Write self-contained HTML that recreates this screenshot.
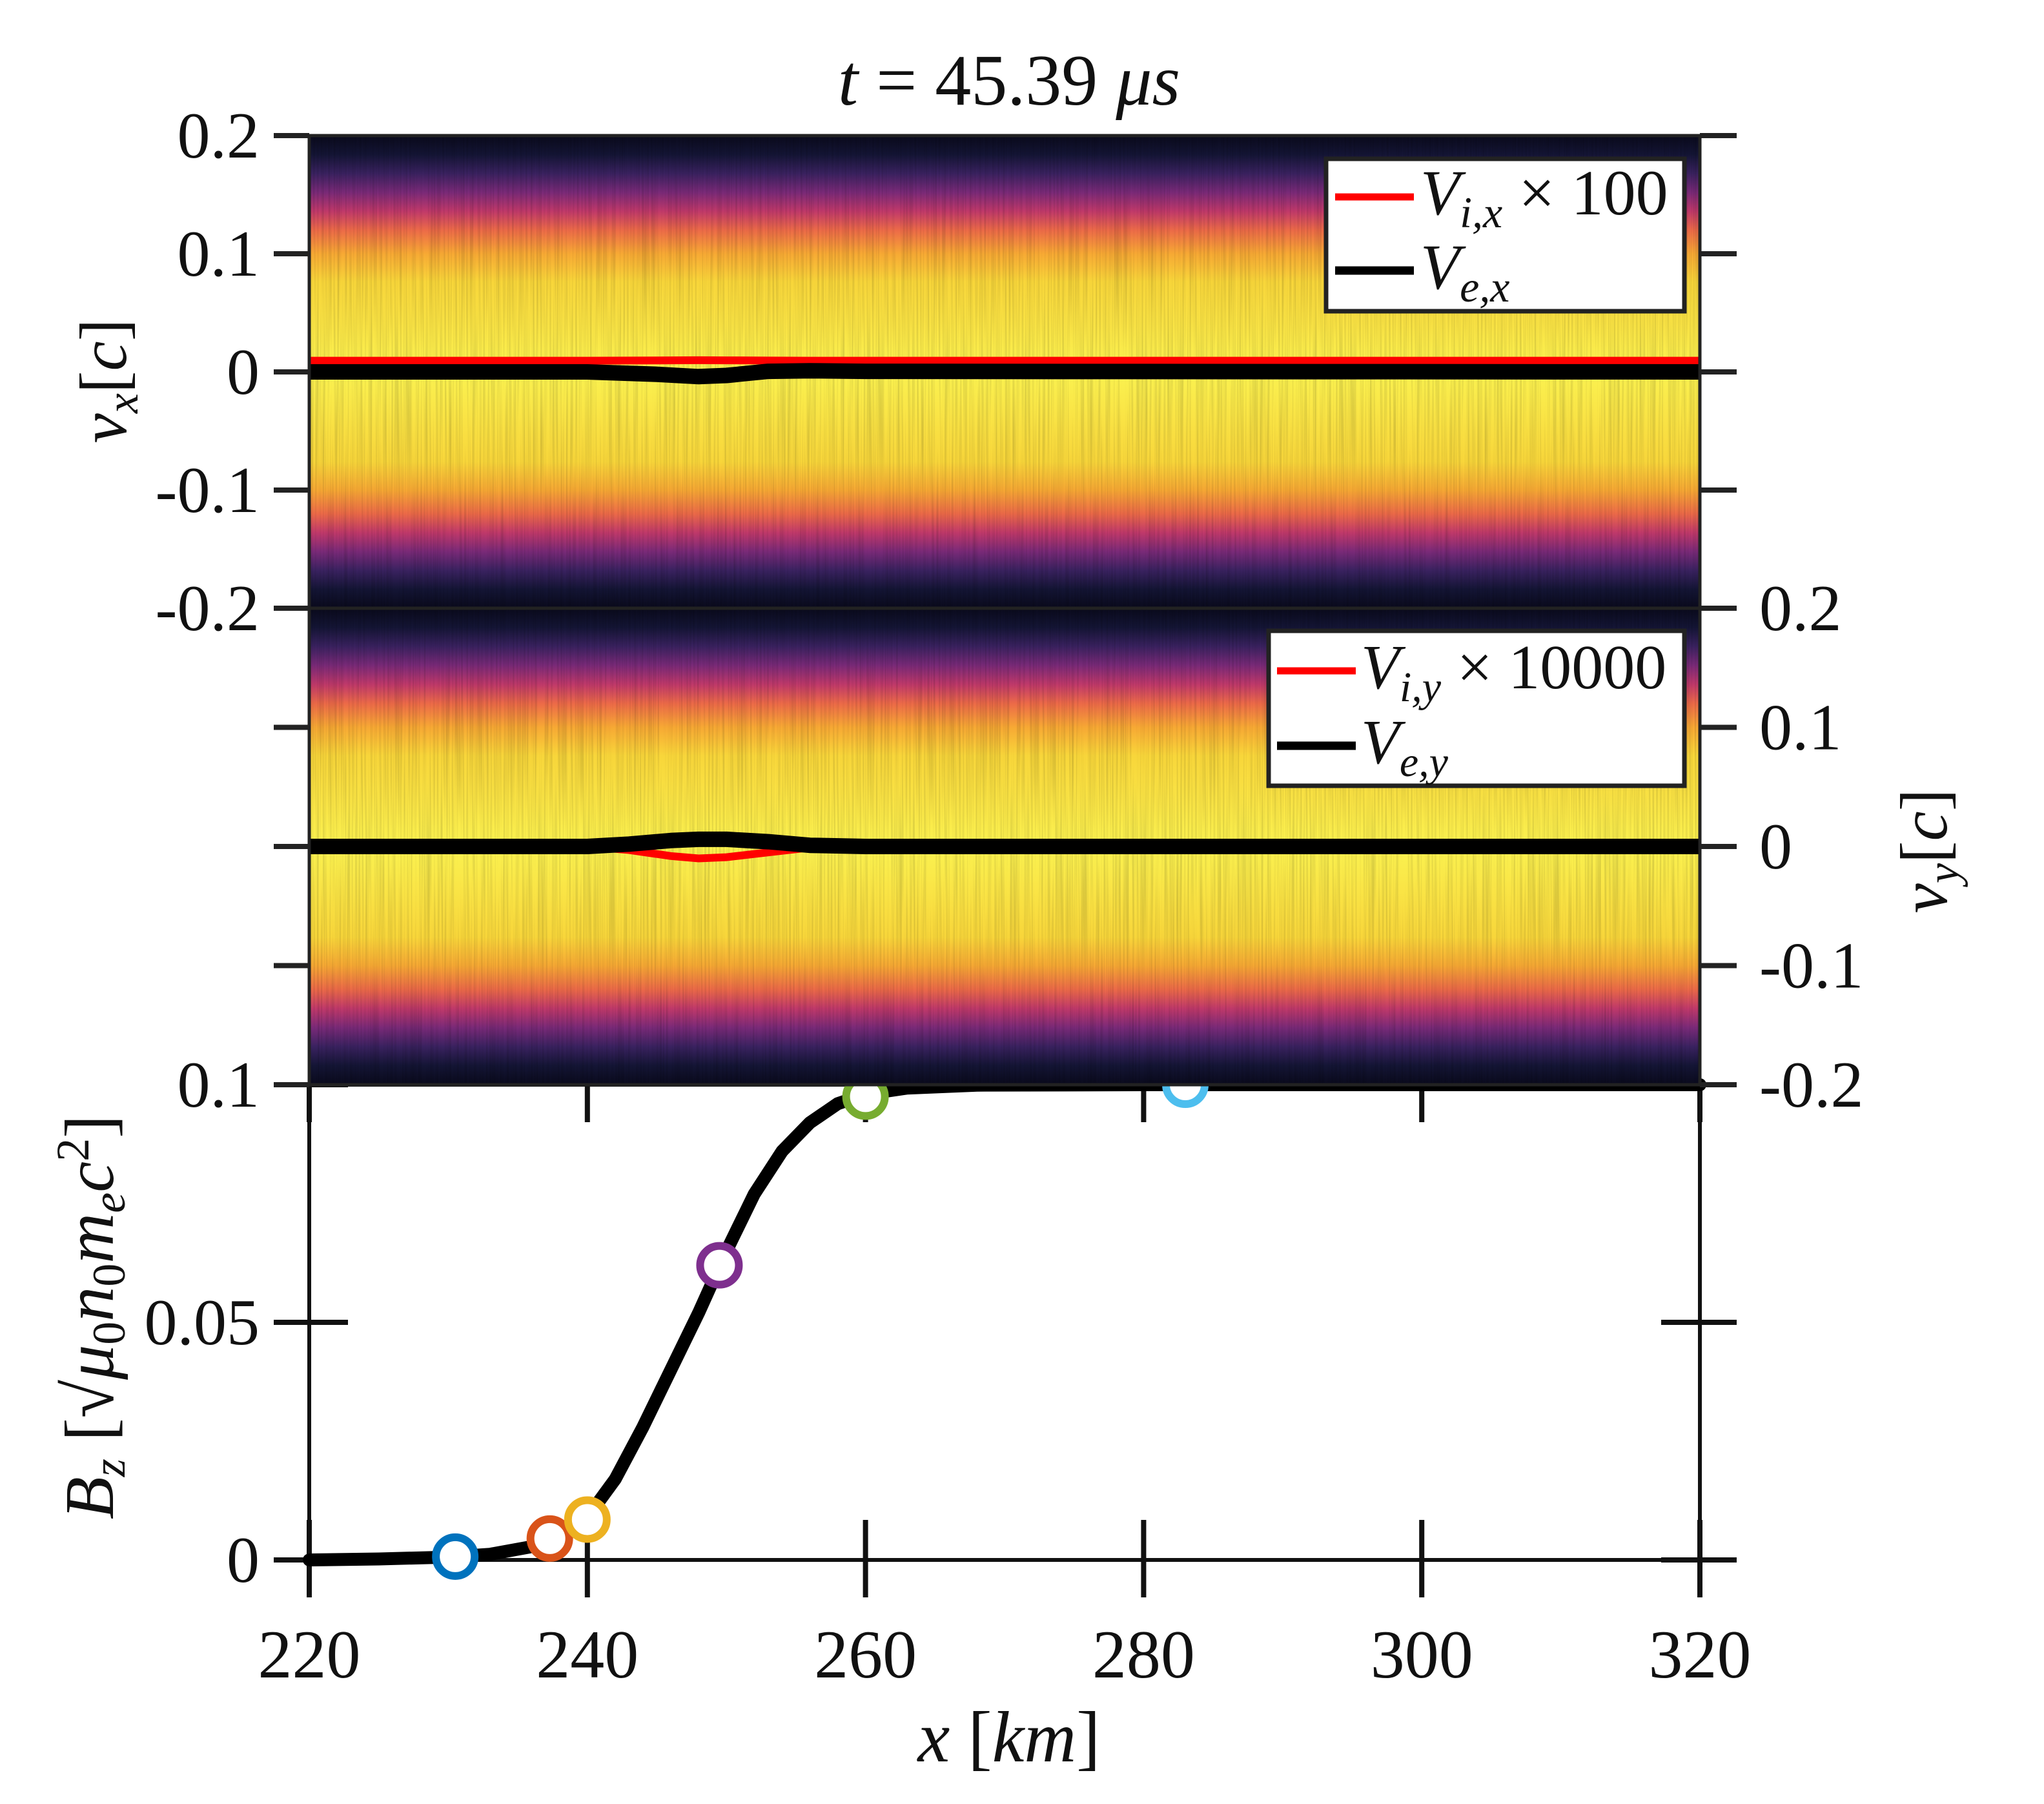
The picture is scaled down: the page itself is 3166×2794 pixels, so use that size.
<!DOCTYPE html>
<html><head><meta charset="utf-8"><style>
html,body{margin:0;padding:0;background:#fff;}
svg{display:block;}
text{font-family:"Liberation Serif",serif;fill:#111;}
.it{font-style:italic;}
</style></head><body>
<svg id="fig" width="3166" height="2794" viewBox="0 0 3166 2794" xmlns="http://www.w3.org/2000/svg">
<defs>
<linearGradient id="pdf" x1="0" y1="0" x2="0" y2="1">
<stop offset="0" stop-color="#0a0a1c"/>
<stop offset="0.04" stop-color="#141535"/>
<stop offset="0.08" stop-color="#3a2260"/>
<stop offset="0.12" stop-color="#7a2a78"/>
<stop offset="0.16" stop-color="#c0396a"/>
<stop offset="0.20" stop-color="#ec6a48"/>
<stop offset="0.25" stop-color="#f7a934"/>
<stop offset="0.31" stop-color="#f8d63a"/>
<stop offset="0.5" stop-color="#fbf250"/>
<stop offset="0.69" stop-color="#f8d63a"/>
<stop offset="0.75" stop-color="#f7a934"/>
<stop offset="0.80" stop-color="#ec6a48"/>
<stop offset="0.84" stop-color="#c0396a"/>
<stop offset="0.88" stop-color="#7a2a78"/>
<stop offset="0.92" stop-color="#3a2260"/>
<stop offset="0.96" stop-color="#141535"/>
<stop offset="1" stop-color="#0a0a1c"/>
</linearGradient>
<filter id="streak" x="0" y="0" width="1" height="1">
<feTurbulence type="fractalNoise" baseFrequency="0.35 0.004" numOctaves="2" seed="3"/>
<feColorMatrix type="matrix" values="0 0 0 0 0  0 0 0 0 0  0 0 0 0 0  0 0 0 0.9 -0.35"/>
</filter>
</defs>
<g id="bottom-panel"></g>
<g id="panels"></g>
<g id="labels"></g>
</svg>
<script>
// ---- data ----
const xTicks = [220, 240, 260, 280, 300, 320];
const vTicks = [0.2, 0.1, 0, -0.1, -0.2];
const vTickLabels = ["0.2", "0.1", "0", "-0.1", "-0.2"];
const bzTicks = [0, 0.05, 0.1];
const bzTickLabels = ["0", "0.05", "0.1"];
const bzX = [220, 225, 230, 233, 236, 238, 240, 242, 244, 246, 248, 250, 252, 254, 256, 258, 260, 263, 268, 280, 300, 320];
const bzY = [0, 0.0002, 0.0006, 0.0012, 0.0028, 0.005, 0.009, 0.017, 0.028, 0.040, 0.052, 0.065, 0.077, 0.086, 0.092, 0.096, 0.098, 0.0993, 0.0999, 0.1, 0.1, 0.1];
const markerX = [230.5, 237.3, 240, 249.5, 260, 283];
const markerY = [0.0007, 0.0045, 0.0085, 0.062, 0.0975, 0.1];
const markerColors = ["#0072bd", "#d95319", "#edb120", "#7e2f8e", "#77ac30", "#4dbeee"];
const vxX = [220, 240, 245, 248, 250, 253, 256, 260, 320];
const vixY = [0.0095, 0.0095, 0.0097, 0.0099, 0.0098, 0.0096, 0.0095, 0.0095, 0.0095];
const vexY = [0, 0, -0.002, -0.004, -0.003, 0.0005, 0.001, 0.0005, 0];
const vyX = [220, 240, 243, 246, 248, 250, 253, 256, 260, 320];
const viyY = [0, 0, -0.003, -0.008, -0.01, -0.009, -0.005, -0.001, 0, 0];
const veyY = [0, 0, 0.002, 0.005, 0.006, 0.006, 0.004, 0.001, 0, 0];

// ---- geometry ----
const L = 479, R = 2633;
const NS = "http://www.w3.org/2000/svg";
const sx = v => L + (v - 220) / 100 * (R - L);
const P1 = {top: 210, bot: 942}, P2 = {top: 942, bot: 1680}, P3 = {top: 1680, bot: 2416};
const sy1 = v => P1.top + (0.2 - v) / 0.4 * (P1.bot - P1.top);
const sy2 = v => P2.top + (0.2 - v) / 0.4 * (P2.bot - P2.top);
const sy3 = v => P3.bot - v / 0.1 * (P3.bot - P3.top);

function mk(tag, attrs, parent) {
  const e = document.createElementNS(NS, tag);
  for (const k in attrs) e.setAttribute(k, attrs[k]);
  parent.appendChild(e);
  return e;
}
function pathFrom(xs, ys, fx, fy) {
  return xs.map((x, i) => (i ? "L" : "M") + fx(x).toFixed(1) + " " + fy(ys[i]).toFixed(1)).join(" ");
}
const gB = document.getElementById("bottom-panel");
const gP = document.getElementById("panels");
const gL = document.getElementById("labels");

// ---- bottom panel (Bz) ----
let ax3 = mk("rect", {x: L, y: P3.top, width: R - L, height: P3.bot - P3.top, fill: "none", stroke: "#111", "stroke-width": 6}, gB);


xTicks.forEach(t => {
  let tk = mk("line", {x1: sx(t), x2: sx(t), y1: P3.bot - 62, y2: P3.bot + 58, stroke: "#111", "stroke-width": 8}, gB);
  
  
  let tk2 = mk("line", {x1: sx(t), x2: sx(t), y1: P3.top, y2: P3.top + 58, stroke: "#111", "stroke-width": 8}, gB);
  
  
  let lb = mk("text", {x: sx(t), y: 2598, "font-size": 106, "text-anchor": "middle"}, gB);
  lb.textContent = t;
  
  
});
bzTicks.forEach((t, i) => {
  let tk = mk("line", {x1: L - 55, x2: L + 60, y1: sy3(t), y2: sy3(t), stroke: "#111", "stroke-width": 8}, gB);
  
  
  let tk2 = mk("line", {x1: R - 60, x2: R + 57, y1: sy3(t), y2: sy3(t), stroke: "#111", "stroke-width": 8}, gB);
  
  
  let lb = mk("text", {x: 402, y: sy3(t) + 34, "font-size": 102, "text-anchor": "end"}, gB);
  lb.textContent = bzTickLabels[i];
  
  
});
let bz = mk("path", {d: pathFrom(bzX, bzY, sx, sy3), fill: "none", stroke: "#000", "stroke-width": 20, "stroke-linejoin": "round", "stroke-linecap": "round"}, gB);


markerX.forEach((x, i) => {
  let c = mk("circle", {cx: sx(x), cy: sy3(markerY[i]), r: 30, fill: "#fff", stroke: markerColors[i], "stroke-width": 12}, gB);
  
  
});

// ---- velocity panels ----
function panel(P, sy, xs, redY, blackY, idx) {
  let bg = mk("rect", {x: L, y: P.top, width: R - L, height: P.bot - P.top, fill: "url(#pdf)"}, gP);
  
  
  let nz = mk("rect", {x: L, y: P.top, width: R - L, height: P.bot - P.top, fill: "#000", filter: "url(#streak)", opacity: 0.35}, gP);
  
  
  let red = mk("path", {d: pathFrom(xs, redY, sx, sy), fill: "none", stroke: "#ff0000", "stroke-width": 12}, gP);
  
  
  let blk = mk("path", {d: pathFrom(xs, blackY, sx, sy), fill: "none", stroke: "#000", "stroke-width": 24, "stroke-linejoin": "round"}, gP);
  
  
  let box = mk("rect", {x: L, y: P.top, width: R - L, height: P.bot - P.top, fill: "none", stroke: "#222", "stroke-width": 5}, gP);
  
  
  vTicks.forEach((t, i) => {
    let tl = mk("line", {x1: L - 55, x2: L, y1: sy(t), y2: sy(t), stroke: "#222", "stroke-width": 8}, gP);
    
    
    let tr = mk("line", {x1: R, x2: R + 57, y1: sy(t), y2: sy(t), stroke: "#222", "stroke-width": 8}, gP);
    
    
  });
}
panel(P1, sy1, vxX, vixY, vexY, 1);
panel(P2, sy2, vyX, viyY, veyY, 2);
vTicks.forEach((t, i) => {
  let a = mk("text", {x: 402, y: sy1(t) + 34, "font-size": 102, "text-anchor": "end"}, gL);
  a.textContent = vTickLabels[i];
  
  
  let b = mk("text", {x: 2725, y: sy2(t) + 34, "font-size": 102, "text-anchor": "start"}, gL);
  b.textContent = vTickLabels[i];
  
  
});
</script>
<svg width="3166" height="2794" viewBox="0 0 3166 2794" style="position:absolute;left:0;top:0" xmlns="http://www.w3.org/2000/svg">
<g>
<rect x="2054" y="246" width="555" height="236" fill="#fff" stroke="#222" stroke-width="7"/>
<line x1="2068" x2="2190" y1="305" y2="305" stroke="#ff0000" stroke-width="11"/>
<line x1="2068" x2="2190" y1="419" y2="419" stroke="#000" stroke-width="13"/>
<text x="2200" y="332" font-size="100"><tspan class="it">V</tspan><tspan class="it" font-size="68" dy="20">i,x</tspan><tspan dy="-20"> × 100</tspan></text>
<text x="2200" y="447" font-size="100"><tspan class="it">V</tspan><tspan class="it" font-size="68" dy="20">e,x</tspan></text>
</g>
<g>
<rect x="1965" y="977" width="644" height="240" fill="#fff" stroke="#222" stroke-width="7"/>
<line x1="1978" x2="2100" y1="1039" y2="1039" stroke="#ff0000" stroke-width="11"/>
<line x1="1978" x2="2100" y1="1155" y2="1155" stroke="#000" stroke-width="13"/>
<text x="2108" y="1066" font-size="98"><tspan class="it">V</tspan><tspan class="it" font-size="66" dy="20">i,y</tspan><tspan dy="-20"> × 10000</tspan></text>
<text x="2108" y="1182" font-size="98"><tspan class="it">V</tspan><tspan class="it" font-size="66" dy="20">e,y</tspan></text>
</g>
<text x="1563" y="162" font-size="112" text-anchor="middle"><tspan class="it">t</tspan> = 45.39 <tspan class="it">μs</tspan></text>
<text x="1563" y="2728" font-size="112" text-anchor="middle"><tspan class="it">x</tspan> [<tspan class="it">km</tspan>]</text>
<text transform="translate(195,590) rotate(-90)" font-size="104" text-anchor="middle"><tspan class="it">v</tspan><tspan class="it" font-size="70" dy="18">x</tspan><tspan dy="-18">[</tspan><tspan class="it">c</tspan>]</text>
<text transform="translate(3015,1318) rotate(-90)" font-size="104" text-anchor="middle"><tspan class="it">v</tspan><tspan class="it" font-size="70" dy="18">y</tspan><tspan dy="-18">[</tspan><tspan class="it">c</tspan>]</text>
<text transform="translate(175,2040) rotate(-90)" font-size="108" text-anchor="middle"><tspan class="it">B</tspan><tspan class="it" font-size="72" dy="18">z</tspan><tspan dy="-18"> [√</tspan><tspan class="it">μ</tspan><tspan font-size="72" dy="18">0</tspan><tspan class="it" dy="-18">n</tspan><tspan font-size="72" dy="18">0</tspan><tspan class="it" dy="-18">m</tspan><tspan class="it" font-size="72" dy="18">e</tspan><tspan class="it" dy="-18">c</tspan><tspan font-size="72" dy="-38">2</tspan><tspan dy="38">]</tspan></text>
</svg>
</body></html>
